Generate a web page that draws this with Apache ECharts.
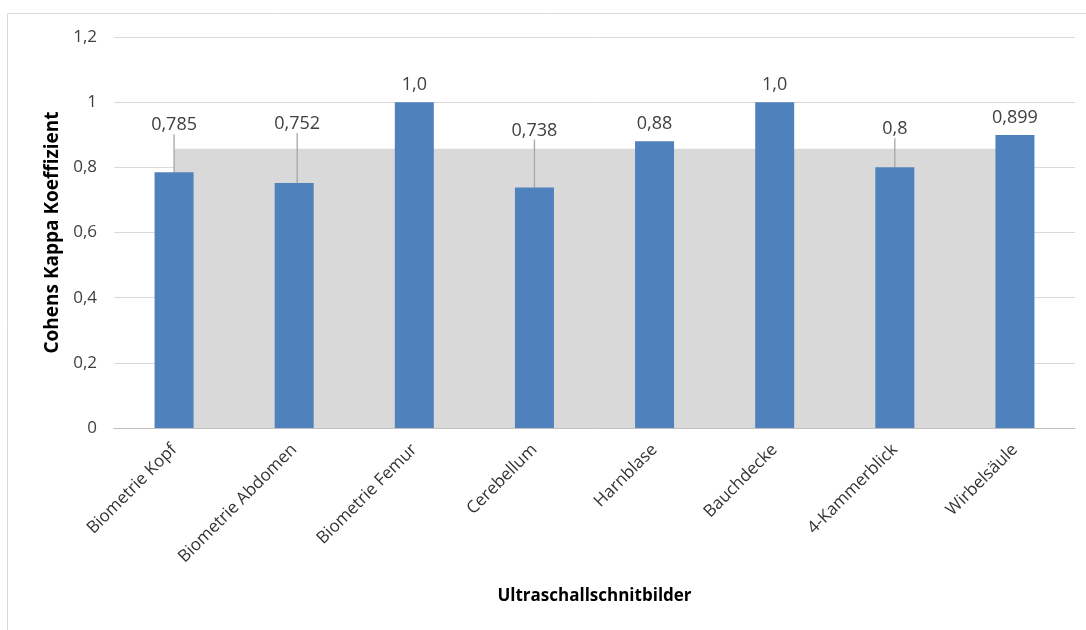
<!DOCTYPE html>
<html>
<head>
<meta charset="utf-8">
<script src="https://cdn.jsdelivr.net/npm/echarts@6/dist/echarts.min.js"></script>
<style>html,body{margin:0;padding:0;background:#fff;}#c{width:1086px;height:630px;}</style>
</head>
<body>
<div id="c"></div>
<script>
var categories = ['Biometrie Kopf','Biometrie Abdomen','Biometrie Femur','Cerebellum','Harnblase','Bauchdecke','4-Kammerblick','Wirbelsäule'];
var kappaValues = [0.785, 0.752, 1.0, 0.738, 0.88, 1.0, 0.8, 0.899];
var kappaLabels = ['0,785','0,752','1,0','0,738','0,88','1,0','0,8','0,899'];
var meanValues = [0.857, 0.857, 0.857, 0.857, 0.857, 0.857, 0.857, 0.857];
var yTickLabels = ['0','0,2','0,4','0,6','0,8','1','1,2'];

// label displacement (layout only)
var labelShift = {0:{dx:0,dy:-30}, 1:{dx:3,dy:-42}, 3:{dx:0,dy:-40}, 6:{dx:0,dy:-21}};

var FONT = '"Open Sans", "Noto Sans", sans-serif';
var chart = echarts.init(document.getElementById('c'));

var barData = kappaValues.map(function(v,i){
  return {value:v, labelLine:{show: labelShift[i] !== undefined}};
});

chart.setOption({
  animation:false,
  backgroundColor:'#ffffff',
  graphic:[{type:'rect', shape:{x:7.5,y:13.5,width:1200,height:800}, style:{fill:null, stroke:'#d9d9d9', lineWidth:1}, silent:true, z:-10}],
  grid:{left:114, right:11, top:37, bottom:202},
  xAxis:{
    type:'category', data:categories,
    axisTick:{show:false},
    axisLine:{lineStyle:{color:'#bfbfbf', width:1}},
    axisLabel:{rotate:45, interval:0, margin:19, color:'#333333', fontSize:17, fontFamily:FONT},
    name:'Ultraschallschnitbilder', nameLocation:'middle', nameGap:160,
    nameTextStyle:{fontSize:17, fontWeight:'bold', color:'#000', fontFamily:FONT}
  },
  yAxis:{
    type:'value', min:0, max:1.2, interval:0.2,
    axisLine:{show:false}, axisTick:{show:false},
    splitLine:{lineStyle:{color:'#d9d9d9', width:1}},
    axisLabel:{margin:17, color:'#404040', fontSize:17, fontFamily:FONT,
      formatter:function(v){return yTickLabels[Math.round(v/0.2)];}},
    name:'Cohens Kappa Koeffizient', nameLocation:'middle', nameGap:52,
    nameTextStyle:{fontSize:19, fontWeight:'bold', color:'#000', fontFamily:FONT}
  },
  series:[
    {
      type:'line', data:meanValues, symbol:'none', z:1,
      lineStyle:{width:0, color:'#d9d9d9'},
      areaStyle:{color:'#d9d9d9', opacity:1},
      silent:true
    },
    {
      type:'bar', data:barData, barWidth:39, z:3,
      itemStyle:{color:'#4f81bd'},
      label:{show:true, position:'top', distance:8, fontSize:18, color:'#404040', fontFamily:FONT,
        formatter:function(p){return kappaLabels[p.dataIndex];}},
      labelLine:{show:false, lineStyle:{color:'#a6a6a6', width:1.3}},
      labelLayout:function(p){
        if (p.seriesIndex !== 1) return {};
        var s = labelShift[p.dataIndex];
        return s ? {dx:s.dx, dy:s.dy} : {};
      }
    }
  ]
});
</script>
</body>
</html>
